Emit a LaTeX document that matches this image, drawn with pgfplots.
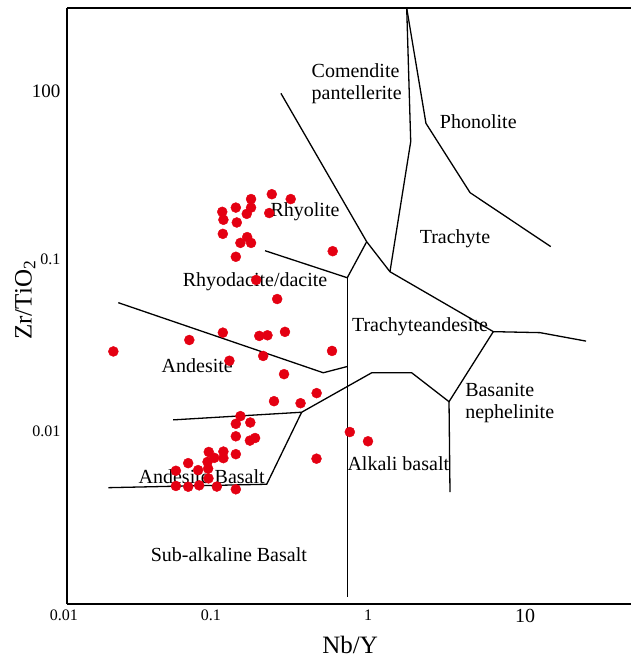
\documentclass[border=0pt]{standalone}
\usepackage{pgfplots}
\pgfplotsset{compat=1.18}
\usepackage{fontspec}
\setmainfont{Liberation Serif}
\definecolor{dotred}{RGB}{228,0,18}
\begin{document}
\begin{tikzpicture}
\begin{axis}[
  scale only axis, width=564pt, height=596pt,
  xmode=log, ymode=log,
  xmin=0.01211, xmax=47.3, ymin=0.000986, ymax=2.879,
  axis x line*=box, axis y line*=left,
  axis line style={line width=2.4pt, black},
  tick style={draw=none},
  minor xtick={}, minor ytick={},
  xtick={0.01211,0.1,1,10},
  xticklabels={{\hspace*{-6pt}0.01},0.1,1,{\fontsize{20}{20}\selectfont 10}},
  ytick={0.01,0.1,0.948},
  yticklabels={0.01,0.1,{\fontsize{19}{19}\selectfont 100}},
  xticklabel style={font=\fontsize{16}{16}\selectfont, yshift=-2pt},
  yticklabel style={font=\fontsize{16}{16}\selectfont, xshift=-3pt},
  xlabel={Nb/Y}, ylabel={Zr/TiO\textsubscript{2}},
  every axis x label/.style={at={(axis description cs:0.502,-0.069)}, anchor=center, font=\fontsize{25}{25}\selectfont},
  every axis y label/.style={at={(axis description cs:-0.074,0.51)}, rotate=90, anchor=center, font=\fontsize{25}{25}\selectfont},
  clip=false,
]
% field boundaries
\addplot[black, line width=1.3pt, no marks] coordinates {(0.279,0.918) (0.981,0.126) (1.380,0.0843)};
\addplot[black, line width=1.3pt, no marks] coordinates {(1.764,2.879) (1.871,0.481) (1.380,0.0843)};
\addplot[black, line width=1.3pt, no marks] coordinates {(1.764,2.879) (2.339,0.615) (4.466,0.243) (14.58,0.118)};
\addplot[black, line width=1.3pt, no marks] coordinates {(1.380,0.0843) (6.28,0.0378) (12.46,0.0373) (24.47,0.0333)};
\addplot[black, line width=1.3pt, no marks] coordinates {(0.221,0.1117) (0.738,0.0778) (0.981,0.126)};
\addplot[black, line width=1.3pt, no marks] coordinates {(0.738,0.0778) (0.738,0.00108)};
\addplot[black, line width=1.3pt, no marks] coordinates {(0.0257,0.0557) (0.519,0.0218) (0.738,0.0237)};
\addplot[black, line width=1.3pt, no marks] coordinates {(0.0575,0.0116) (0.378,0.01285) (1.056,0.0218) (1.898,0.0218) (3.281,0.0148) (6.28,0.0378)};
\addplot[black, line width=1.3pt, no marks] coordinates {(3.281,0.0148) (3.328,0.00441)};
\addplot[black, line width=1.3pt, no marks] coordinates {(0.378,0.01285) (0.2265,0.00490) (0.0222,0.00468)};
% field names
\begin{scope}[every node/.style={font=\fontsize{20}{22}\selectfont, inner sep=0pt}]
\node[align=left] at (axis cs:0.847,1.04) {Comendite\\pantellerite};
\node at (axis cs:5.04,0.628) {Phonolite};
\node at (axis cs:0.397,0.188) {Rhyolite};
\node at (axis cs:3.58,0.132) {Trachyte};
\node at (axis cs:0.191,0.0740) {Rhyodacite/dacite};
\node at (axis cs:0.0818,0.0240) {Andesite};
\node at (axis cs:2.143,0.0404) {Trachyteandesite};
\node[align=left, anchor=west] at (axis cs:4.15,0.0145) {Basanite\\nephelinite};
\node at (axis cs:1.56,0.00649) {Alkali basalt};
\node at (axis cs:0.0873,0.00542) {Andesite Basalt};
\node at (axis cs:0.130,0.00190) {Sub-alkaline Basalt};
\end{scope}
% samples
\addplot[only marks, mark=*, mark size=5pt, color=dotred, mark options={draw=dotred, fill=dotred}] coordinates {
(0.244,0.238) (0.322,0.223) (0.180,0.223) (0.144,0.199) (0.180,0.199)
(0.118,0.188) (0.169,0.183) (0.235,0.185) (0.120,0.169) (0.146,0.163)
(0.119,0.140) (0.170,0.134) (0.154,0.124) (0.180,0.124) (0.144,0.103)
(0.596,0.111) (0.194,0.0755) (0.264,0.0585) (0.0239,0.0290) (0.0728,0.0338)
(0.119,0.0373) (0.203,0.0357) (0.229,0.0360) (0.296,0.0377) (0.590,0.0292)
(0.131,0.0256) (0.215,0.0273) (0.292,0.0214) (0.471,0.0166) (0.252,0.0149)
(0.372,0.0145) (0.154,0.0122) (0.144,0.0110) (0.178,0.0112) (0.144,0.00931)
(0.177,0.00879) (0.191,0.00910) (0.0968,0.00755) (0.120,0.00759) (0.144,0.00733)
(0.105,0.00698) (0.120,0.00695) (0.0716,0.00650) (0.0951,0.00661) (0.0828,0.00592)
(0.0959,0.00604) (0.0598,0.00587) (0.0964,0.00530) (0.0598,0.00479) (0.0716,0.00474)
(0.0841,0.00483) (0.109,0.00475) (0.144,0.00458) (0.470,0.00690) (0.766,0.00986)
(1.00,0.00871)
};
\end{axis}
\pgfresetboundingbox
\path[use as bounding box] (-67pt,-56pt) rectangle (564pt,604pt);
\end{tikzpicture}
\end{document}
